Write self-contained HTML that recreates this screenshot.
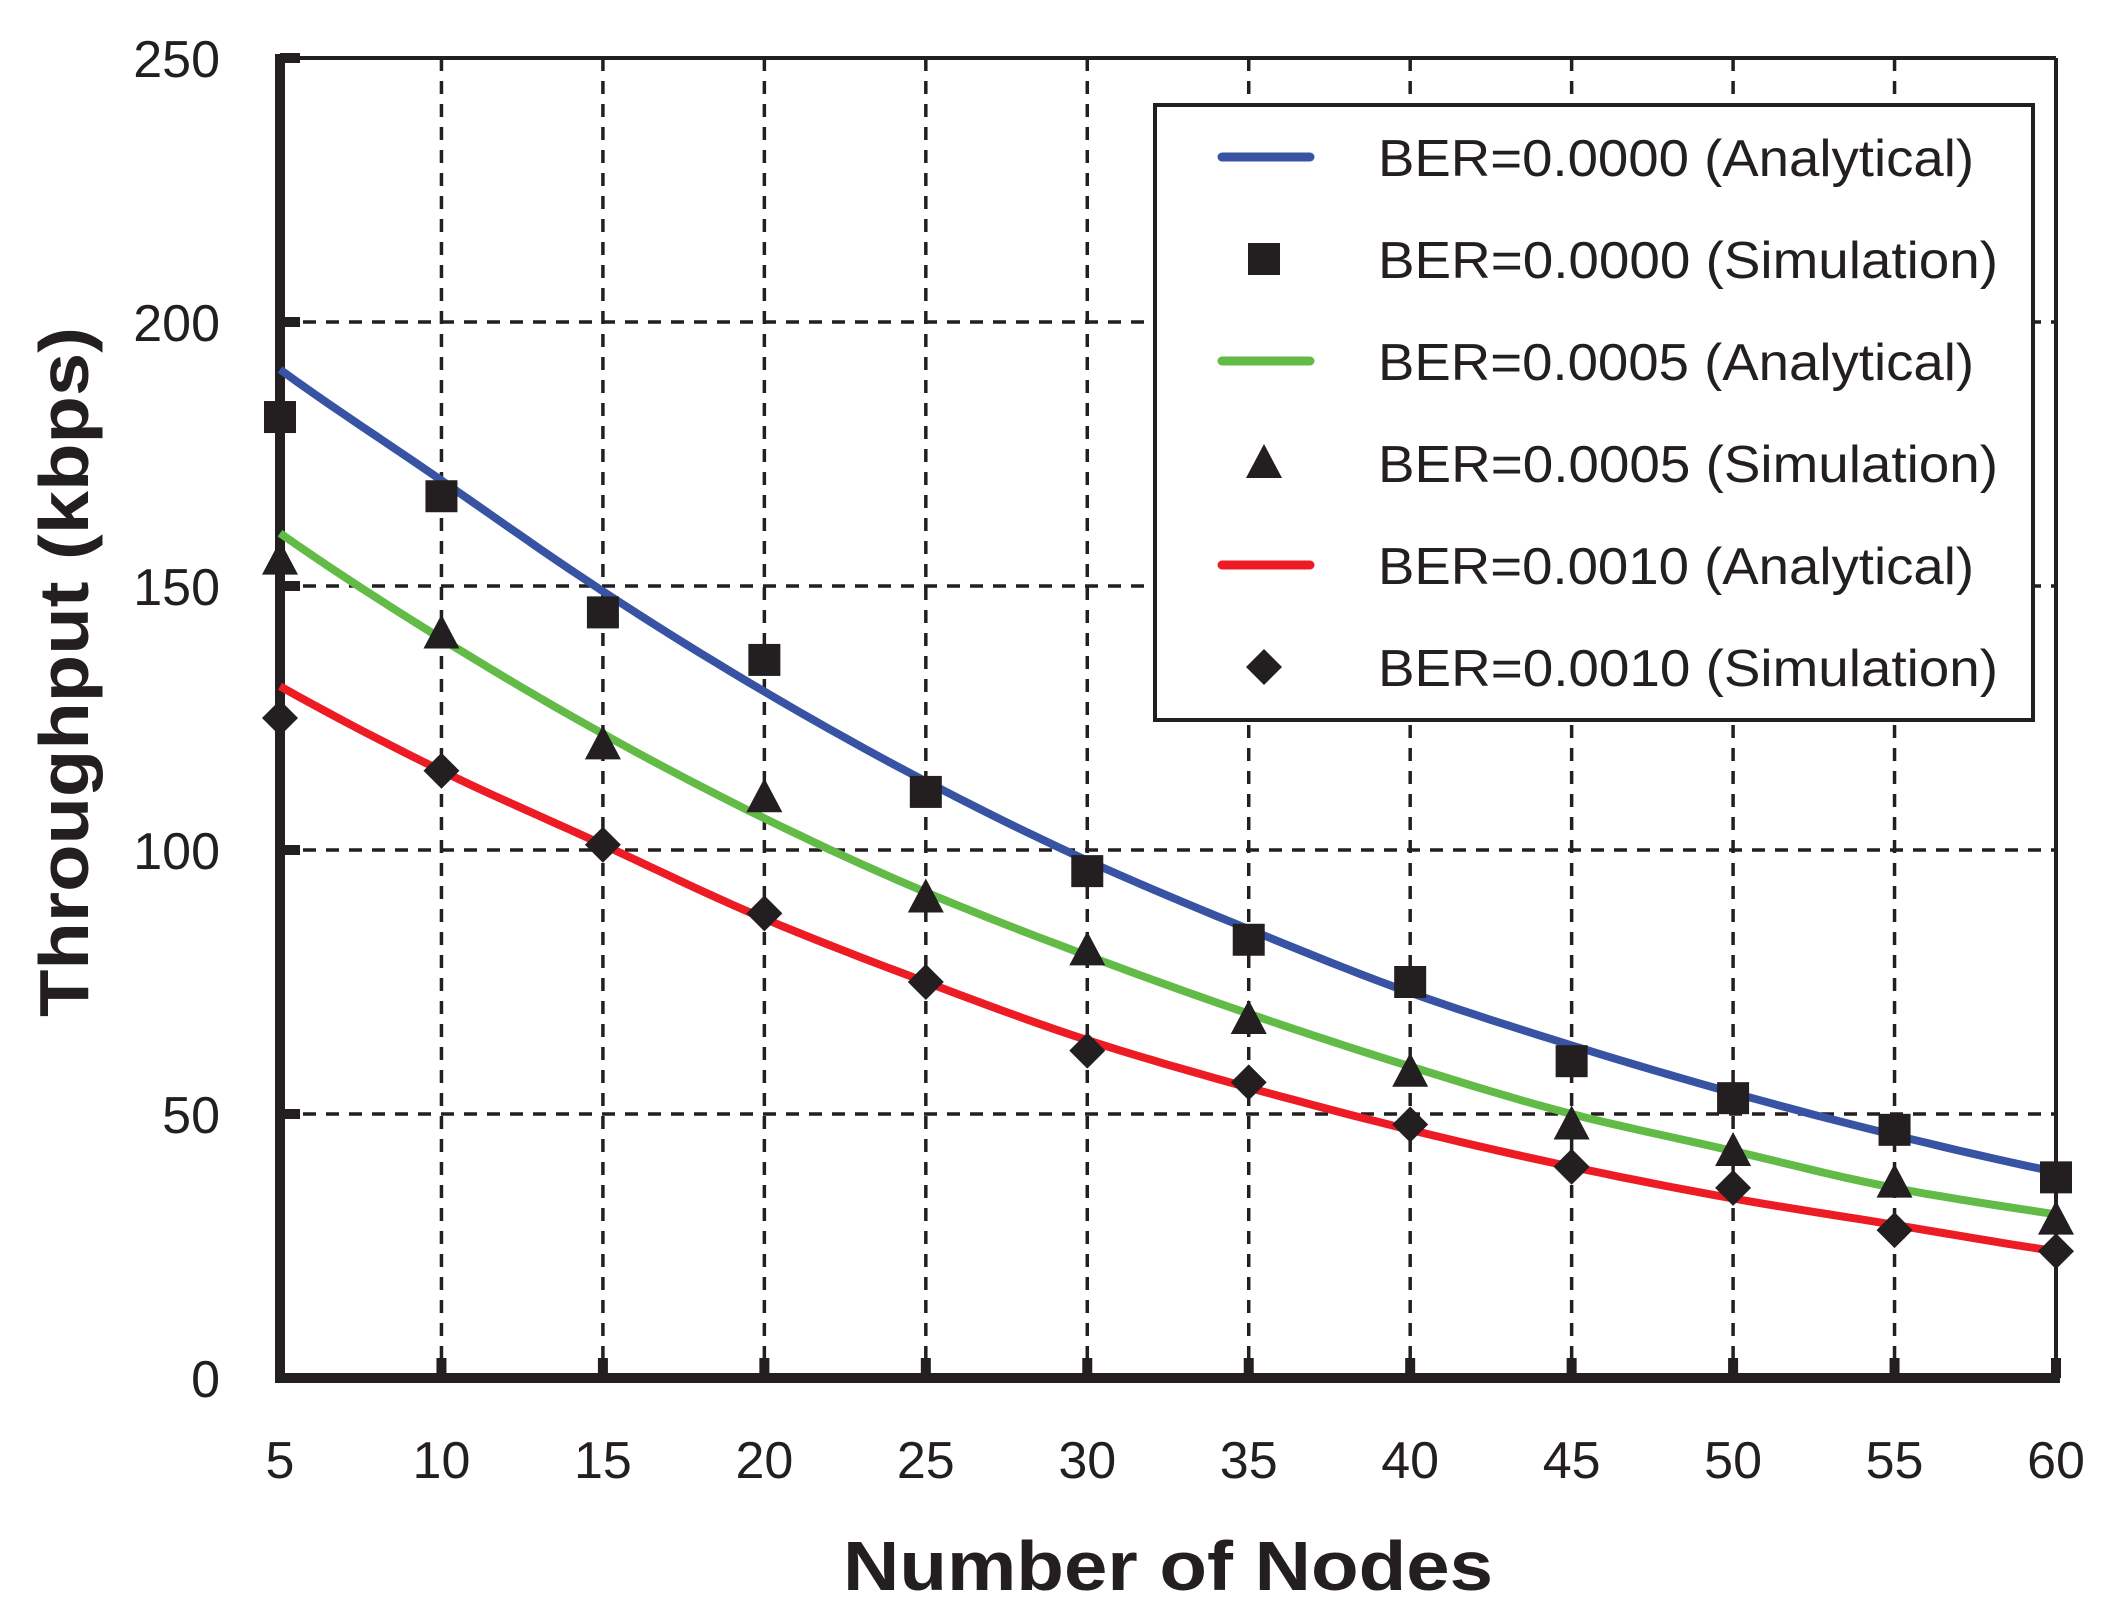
<!DOCTYPE html>
<html><head><meta charset="utf-8"><style>html,body{margin:0;padding:0;background:#fff}</style></head>
<body>
<svg id="s" xmlns="http://www.w3.org/2000/svg" width="2106" height="1616" viewBox="0 0 2106 1616" font-family="Liberation Sans, sans-serif" fill="#231f20">
<rect width="2106" height="1616" fill="#fff"/>
<g id="g"></g>
</svg>
<script>
const X=v=>280+(v-5)*(1776/55), Y=v=>1378-v*(1320/250);
let h='';
const xs=[5,10,15,20,25,30,35,40,45,50,55,60];
for(let i=1;i<xs.length-1;i++){h+=`<line x1="${X(xs[i])}" y1="58" x2="${X(xs[i])}" y2="1378" stroke="#231f20" stroke-width="3.5" stroke-dasharray="13 10"/>`;}
for(let v=50;v<250;v+=50){h+=`<line x1="280" y1="${Y(v)}" x2="2056" y2="${Y(v)}" stroke="#231f20" stroke-width="3.5" stroke-dasharray="13 10"/>`;}
h+=`<line x1="280" y1="58" x2="2056" y2="58" stroke="#231f20" stroke-width="4"/>`;
h+=`<line x1="2056" y1="58" x2="2056" y2="1378" stroke="#231f20" stroke-width="4"/>`;
for(const x of xs){h+=`<rect x="${X(x)-5}" y="1358" width="10" height="20"/>`;}
for(let v=0;v<=250;v+=50){h+=`<rect x="280" y="${Y(v)-5}" width="20" height="10"/>`;}
h+=`<line x1="280" y1="54" x2="280" y2="1383" stroke="#231f20" stroke-width="10"/>`;
h+=`<line x1="275" y1="1378" x2="2060" y2="1378" stroke="#231f20" stroke-width="10"/>`;
for(let v=0;v<=250;v+=50){h+=`<text x="220" y="${Y(v)+19}" font-size="52" text-anchor="end">${v}</text>`;}
for(const x of xs){h+=`<text x="${X(x)}" y="1478" font-size="52" text-anchor="middle">${x}</text>`;}
h+=`<text x="1168" y="1590" font-size="70" font-weight="bold" text-anchor="middle" textLength="650" lengthAdjust="spacingAndGlyphs">Number of Nodes</text>`;
h+=`<text transform="translate(88,672) rotate(-90)" font-size="70" font-weight="bold" text-anchor="middle" textLength="690" lengthAdjust="spacingAndGlyphs">Throughput (kbps)</text>`;
const A=[[191,170,149,130,113,98,85,73,63,54,46,39],[160,140,122,106,92,80,69,59,50,43,36,31],[131,115,101,87,75,64,55,47,40,34,29,24]];
const S=[[182,167,145,136,111,96,83,75,60,53,47,38],[155,141,120,110,91,81,68,58,48,43,37,30],[125,115,101,88,75,62,56,48,40,36,28,24]];
const C=['#3853a4','#62bb46','#ed1c24'];
function curve(a){const l=a.map(Math.log);const g=j=>j<0?2*l[0]-l[1]:(j>11?2*l[11]-l[10]:l[j]);
 let p=[];for(let t=5;t<=60;t+=0.5){let i=Math.min(10,Math.floor((t-5)/5));let f=(t-5-i*5)/5;
 let y0=g(i-1),y1=g(i),y2=g(i+1),y3=g(i+2);
 let y=0.5*((2*y1)+(-y0+y2)*f+(2*y0-5*y1+4*y2-y3)*f*f+(-y0+3*y1-3*y2+y3)*f*f*f);
 p.push(X(t).toFixed(1)+','+Y(Math.exp(y)).toFixed(1));}return p.join(' ');}
A.forEach((a,k)=>{h+=`<polyline points="${curve(a)}" fill="none" stroke="${C[k]}" stroke-width="8"/>`;});
function mk(k,x,y){if(k==0)return `<rect x="${x-16}" y="${y-16}" width="32" height="32"/>`;
 if(k==1)return `<polygon points="${x},${y-19} ${x+18},${y+15} ${x-18},${y+15}"/>`;
 return `<polygon points="${x},${y-18} ${x+18},${y} ${x},${y+18} ${x-18},${y}"/>`;}
S.forEach((s,k)=>s.forEach((v,i)=>{h+=mk(k,X(xs[i]),Y(v));}));
h+=`<rect x="1155" y="105" width="878" height="615" fill="#fff" stroke="#231f20" stroke-width="4"/>`;
const L=['BER=0.0000 (Analytical)','BER=0.0000 (Simulation)','BER=0.0005 (Analytical)','BER=0.0005 (Simulation)','BER=0.0010 (Analytical)','BER=0.0010 (Simulation)'];
L.forEach((t,i)=>{let y=157+i*102;
 if(i%2==0)h+=`<line x1="1222" y1="${y}" x2="1310" y2="${y}" stroke="${C[i/2]}" stroke-width="9" stroke-linecap="round"/>`;
 else h+=mk((i-1)/2,1264,y);
 h+=`<text x="1378" y="${y+19}" font-size="52" textLength="${t.includes('Sim')?620:596}" lengthAdjust="spacingAndGlyphs">${t}</text>`;});
document.getElementById('g').innerHTML=h;
</script>
</body></html>
